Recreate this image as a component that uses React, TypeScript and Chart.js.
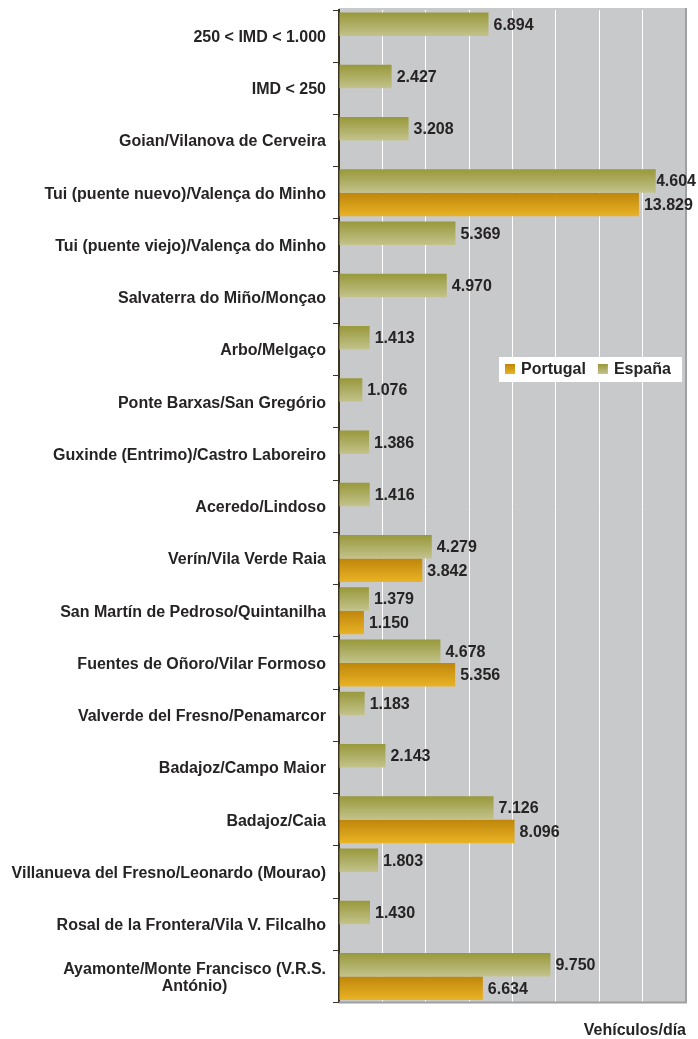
import React, { useEffect, useRef } from "react";
import { Chart, registerables } from "chart.js";

Chart.register(...registerables);

const categories: (string | string[])[] = [
  "250 < IMD < 1.000",
  "IMD < 250",
  "Goian/Vilanova de Cerveira",
  "Tui (puente nuevo)/Valença do Minho",
  "Tui (puente viejo)/Valença do Minho",
  "Salvaterra do Miño/Monçao",
  "Arbo/Melgaço",
  "Ponte Barxas/San Gregório",
  "Guxinde (Entrimo)/Castro Laboreiro",
  "Aceredo/Lindoso",
  "Verín/Vila Verde Raia",
  "San Martín de Pedroso/Quintanilha",
  "Fuentes de Oñoro/Vilar Formoso",
  "Valverde del Fresno/Penamarcor",
  "Badajoz/Campo Maior",
  "Badajoz/Caia",
  "Villanueva del Fresno/Leonardo (Mourao)",
  "Rosal de la Frontera/Vila V. Filcalho",
  ["Ayamonte/Monte Francisco (V.R.S.", "António)"],
];

const espana: (number | null)[] = [
  6894, 2427, 3208, 14604, 5369, 4970, 1413, 1076, 1386, 1416, 4279, 1379, 4678, 1183, 2143, 7126, 1803, 1430, 9750,
];

const portugal: (number | null)[] = [
  null, null, null, 13829, null, null, null, null, null, null, 3842, 1150, 5356, null, null, 8096, null, null, 6634,
];

const seriesNames = ["España", "Portugal"];
const legendOrder = ["Portugal", "España"];
const axisTitle = "Vehículos/día";
const xMax = 16000;
const xStep = 2000;

const FAMILY = '"Liberation Sans", Arial, Helvetica, sans-serif';
const FONT_SIZE = 16;
const TEXT = "#262324";
const PLOT_BG = "#c8c9cb";
const AXIS_DARK = "#3d3324";
const CAT_PCT = 0.9;

const olive = { top: "#98983b", bottom: "#c3c38c", legend: "#a8a860" };
const orange = { top: "#bf860b", bottom: "#e9b325", legend: "#d9a010" };
const palette = [olive, orange];

const fmt = (v: number) => {
  const s = Math.round(v).toString();
  return s.replace(/\B(?=(\d{3})+(?!\d))/g, ".");
};

function barGradient(ctx: any) {
  const chart = ctx.chart;
  const pal = palette[ctx.datasetIndex] || olive;
  const yScale = chart.scales && chart.scales.y;
  if (!yScale || ctx.type !== "data" || !chart.chartArea) return pal.legend;
  const center = yScale.getPixelForValue(ctx.dataIndex);
  const band = (yScale.bottom - yScale.top) / categories.length;
  const half = (band * CAT_PCT) / 2;
  const top = ctx.datasetIndex === 0 ? center - half : center;
  const g = chart.ctx.createLinearGradient(0, top, 0, top + half);
  g.addColorStop(0, pal.top);
  g.addColorStop(1, pal.bottom);
  return g;
}

const bgPlugin = {
  id: "plotBg",
  beforeDraw(chart: any) {
    const { ctx, chartArea: a } = chart;
    ctx.save();
    ctx.fillStyle = PLOT_BG;
    ctx.fillRect(a.left, a.top - 2, a.right - a.left, a.bottom - a.top + 2);
    ctx.restore();
  },
};

const framePlugin = {
  id: "frame",
  afterDatasetsDraw(chart: any) {
    const { ctx, chartArea: a } = chart;
    ctx.save();
    ctx.strokeStyle = "#9fa0a2";
    ctx.lineWidth = 2;
    ctx.beginPath();
    ctx.moveTo(a.left, a.bottom);
    ctx.lineTo(a.right, a.bottom);
    ctx.lineTo(a.right, a.top - 2);
    ctx.stroke();
    ctx.restore();
  },
};

const valueLabelPlugin = {
  id: "valueLabels",
  afterDatasetsDraw(chart: any) {
    const { ctx } = chart;
    const W = chart.width;
    ctx.save();
    ctx.font = `bold ${FONT_SIZE}px ${FAMILY}`;
    ctx.fillStyle = TEXT;
    ctx.textBaseline = "middle";
    ctx.textAlign = "left";
    chart.data.datasets.forEach((ds: any, di: number) => {
      const meta = chart.getDatasetMeta(di);
      meta.data.forEach((el: any, i: number) => {
        const v = ds.data[i];
        if (v === null || v === undefined) return;
        const text = fmt(v);
        const w = ctx.measureText(text).width;
        let x = el.x + 5;
        if (x + w > W - 2) {
          x = W - 2 - w;
          ctx.save();
          ctx.beginPath();
          ctx.rect(el.x + 1, 0, W, chart.height);
          ctx.clip();
          ctx.fillText(text, x, el.y + 1);
          ctx.restore();
        } else {
          ctx.fillText(text, x, el.y + 1);
        }
      });
    });
    ctx.restore();
  },
};

const yLabelPlugin = {
  id: "yLabels",
  afterDraw(chart: any) {
    const { ctx } = chart;
    const yScale = chart.scales.y;
    ctx.save();
    ctx.font = `bold ${FONT_SIZE}px ${FAMILY}`;
    ctx.fillStyle = TEXT;
    ctx.textBaseline = "middle";
    ctx.textAlign = "center";
    const right = yScale.right - 13;
    (chart.data.labels as any[]).forEach((lab, i) => {
      const lines: string[] = Array.isArray(lab) ? lab : [lab];
      const cy = yScale.getPixelForValue(i) + 1.5;
      const maxW = Math.max(...lines.map((l) => ctx.measureText(l).width));
      lines.forEach((l, k) => {
        const y = cy + (k - (lines.length - 1) / 2) * 17.5;
        ctx.fillText(l, right - maxW / 2, y);
      });
    });
    ctx.restore();
  },
};

const legendPlugin = {
  id: "floatLegend",
  afterDraw(chart: any) {
    const { ctx, chartArea: a } = chart;
    const x0 = a.right - 187;
    const y0 = a.top + 347;
    ctx.save();
    ctx.fillStyle = "#ffffff";
    ctx.fillRect(x0, y0, 183, 25);
    ctx.font = `bold ${FONT_SIZE}px ${FAMILY}`;
    ctx.textBaseline = "middle";
    ctx.textAlign = "left";
    let x = x0 + 6;
    legendOrder.forEach((name) => {
      const pal = palette[seriesNames.indexOf(name)];
      const g = ctx.createLinearGradient(0, y0 + 7, 0, y0 + 17);
      g.addColorStop(0, pal.top);
      g.addColorStop(1, pal.bottom);
      ctx.fillStyle = g;
      ctx.fillRect(x, y0 + 7, 10, 10);
      ctx.fillStyle = TEXT;
      ctx.fillText(name, x + 16, y0 + 13);
      x += 16 + ctx.measureText(name).width + 12;
    });
    ctx.restore();
  },
};

export default function App() {
  const ref = useRef<HTMLCanvasElement | null>(null);

  useEffect(() => {
    if (!ref.current) return;
    const chart = new Chart(ref.current, {
      type: "bar",
      data: {
        labels: categories as any,
        datasets: [
          {
            label: seriesNames[0],
            data: espana,
            backgroundColor: barGradient as any,
            borderWidth: 0,
            categoryPercentage: CAT_PCT,
            barPercentage: 1,
          },
          {
            label: seriesNames[1],
            data: portugal,
            backgroundColor: barGradient as any,
            borderWidth: 0,
            categoryPercentage: CAT_PCT,
            barPercentage: 1,
          },
        ],
      },
      options: {
        indexAxis: "y",
        responsive: false,
        animation: false,
        events: [],
        layout: { padding: { top: 10, right: 12, bottom: 0, left: 0 } },
        plugins: {
          legend: { display: false },
          tooltip: { enabled: false },
        },
        scales: {
          x: {
            type: "linear",
            min: 0,
            max: xMax,
            ticks: { display: false, stepSize: xStep },
            grid: { color: "#ffffff", lineWidth: 1, drawTicks: false },
            border: { display: false },
            title: {
              display: true,
              text: axisTitle,
              align: "end",
              color: TEXT,
              font: { family: FAMILY, size: FONT_SIZE, weight: "bold", lineHeight: 1 },
              padding: { top: 0, bottom: 0 },
            },
            afterFit(s: any) {
              s.height = 36.5;
            },
          },
          y: {
            type: "category",
            ticks: { display: false },
            grid: {
              display: true,
              drawOnChartArea: false,
              drawTicks: true,
              tickLength: 6,
              color: AXIS_DARK,
              lineWidth: 1,
              offset: true,
            },
            border: { display: true, color: AXIS_DARK, width: 2 },
            afterFit(s: any) {
              s.width = 339;
            },
          },
        },
      } as any,
      plugins: [bgPlugin, framePlugin, valueLabelPlugin, yLabelPlugin, legendPlugin],
    });
    return () => chart.destroy();
  }, []);

  return (
    <div style={{ position: "fixed", left: 0, top: 0, width: 698, height: 1039, background: "#ffffff" }}>
      <canvas ref={ref} width={698} height={1039} style={{ display: "block" }} />
    </div>
  );
}
